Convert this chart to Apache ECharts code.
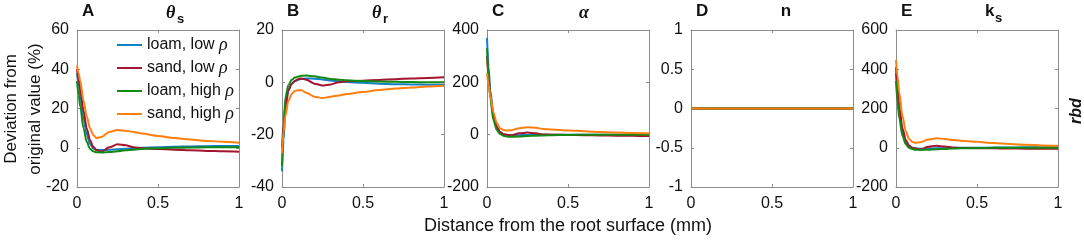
<!DOCTYPE html>
<html>
<head>
<meta charset="utf-8">
<script src="https://cdn.jsdelivr.net/npm/echarts@6/dist/echarts.min.js"></script>
<style>
  html, body { margin: 0; padding: 0; background: #fff; }
  #chart { width: 1084px; height: 240px; }
</style>
</head>
<body>
<div id="chart"></div>
<script>
// distance from root surface (mm), shared by every panel
var xs = [0, 0.01, 0.02, 0.04, 0.06, 0.08, 0.1, 0.12, 0.15, 0.2, 0.25, 0.3, 0.35, 0.4, 0.5, 0.6, 0.7, 0.8, 0.9, 1];

var seriesNames = ['loam, low ρ', 'sand, low ρ', 'loam, high ρ', 'sand, high ρ'];
var seriesColors = ['#0f7fc6', '#a2142f', '#138a13', '#ff7f0e'];

// A: theta_s
var thetaSLoamLow  = [38, 32, 26, 15, 7, 2, -0.3, -1, -1.2, -1, -0.8, -0.5, -0.2, 0, 0.3, 0.5, 0.7, 0.8, 0.9, 0.9];
var thetaSSandLow  = [40, 35, 30, 19, 10, 4, 0.5, -1.2, -2, 0.2, 1.8, 1.3, 0.2, -0.3, -0.6, -1, -1.3, -1.6, -1.8, -2];
var thetaSLoamHigh = [34, 27, 21, 10, 3, -0.5, -1.8, -2.3, -2.4, -2.2, -1.8, -1.3, -1, -0.6, -0.2, 0, 0.1, 0.2, 0.2, 0.2];
var thetaSSandHigh = [42, 38, 34, 24, 16, 10, 6.5, 5, 5.5, 8, 9, 8.7, 8, 7.2, 6, 5, 4.2, 3.5, 3, 2.6];

// B: theta_r
var thetaRLoamLow  = [-34, -22, -11, -3, -0.5, 0.5, 1, 1.3, 1.5, 1.4, 1.1, 0.7, 0.4, 0.1, -0.2, -0.5, -0.7, -0.8, -0.9, -0.9];
var thetaRSandLow  = [-25, -16, -9, -3, -0.5, 0.5, 1.2, 1.5, 1, -0.5, -1.2, -0.8, 0, 0.4, 0.6, 0.9, 1.2, 1.5, 1.7, 1.9];
var thetaRLoamHigh = [-32, -18, -6, -1, 1, 1.8, 2.2, 2.5, 2.6, 2.3, 1.8, 1.3, 1, 0.8, 0.5, 0.3, 0.2, 0.1, 0, 0];
var thetaRSandHigh = [-27, -19, -13, -7, -4.5, -3.3, -3, -3, -4, -5.5, -6, -5.5, -5, -4.5, -3.7, -2.9, -2.4, -2, -1.6, -1.3];

// C: alpha
var alphaLoamLow  = [370, 260, 170, 75, 30, 10, 2, 0, -2, -2, -1, -1, 0, 0, 0, 0, 0, 0, 0, 0];
var alphaSandLow  = [300, 220, 150, 70, 30, 10, 2, 0, -2, 5, 8, 5, 1, 0, -1, -2, -3, -4, -4.5, -5];
var alphaLoamHigh = [330, 220, 140, 55, 18, 3, -4, -7, -8, -7, -5, -4, -3, -2, -1, -0.5, 0, 0, 0, 0];
var alphaSandHigh = [235, 190, 150, 85, 45, 25, 18, 16, 17, 25, 28, 26, 22, 20, 16, 13, 10, 8, 6, 5];

// D: n (no deviation)
var nLoamLow  = [0, 0, 0, 0, 0, 0, 0, 0, 0, 0, 0, 0, 0, 0, 0, 0, 0, 0, 0, 0];
var nSandLow  = [0, 0, 0, 0, 0, 0, 0, 0, 0, 0, 0, 0, 0, 0, 0, 0, 0, 0, 0, 0];
var nLoamHigh = [0, 0, 0, 0, 0, 0, 0, 0, 0, 0, 0, 0, 0, 0, 0, 0, 0, 0, 0, 0];
var nSandHigh = [0, 0, 0, 0, 0, 0, 0, 0, 0, 0, 0, 0, 0, 0, 0, 0, 0, 0, 0, 0];

// E: k_s
var ksLoamLow  = [380, 270, 180, 80, 30, 8, 0, -3, -5, -4, -3, -2, -1, 0, 0, 1, 1, 2, 2, 2];
var ksSandLow  = [410, 300, 210, 100, 40, 12, 0, -5, -8, 5, 10, 6, 1, -1, -2, -3, -4, -4.5, -5, -5];
var ksLoamHigh = [340, 230, 150, 60, 18, 0, -7, -10, -11, -10, -8, -6, -4, -3, -1.5, -0.5, 0, 0, 0.5, 0.5];
var ksSandHigh = [447, 360, 280, 160, 85, 45, 30, 25, 28, 42, 48, 45, 40, 36, 30, 24, 19, 15, 12, 10];

var panelData = [
    [thetaSLoamLow, thetaSSandLow, thetaSLoamHigh, thetaSSandHigh],
    [thetaRLoamLow, thetaRSandLow, thetaRLoamHigh, thetaRSandHigh],
    [alphaLoamLow, alphaSandLow, alphaLoamHigh, alphaSandHigh],
    [nLoamLow, nSandLow, nLoamHigh, nSandHigh],
    [ksLoamLow, ksSandLow, ksLoamHigh, ksSandHigh]
];

// y axis ranges per panel: [min, max, interval]
var yRanges = [[-20, 60, 20], [-40, 20, 20], [-200, 400, 200], [-1, 1, 0.5], [-200, 600, 200]];
var xTicks = [0, 0.5, 1];

var panelLetters = ['A', 'B', 'C', 'D', 'E'];

var font = 'Liberation Sans, Arial, sans-serif';
var greekFont = 'Liberation Serif, Times New Roman, serif';
var boxColor = '#8c8c8c';
var textColor = '#111';

var gridLefts = [77, 282, 487, 691, 896];
var gridW = 162, gridTop = 30, gridH = 157;

var grids = [], xAxes = [], yAxes = [], series = [], graphics = [];

function boxLine() {
    return { show: true, onZero: false, lineStyle: { color: boxColor, width: 1 } };
}
function boxTick() {
    return { show: true, inside: true, length: 3, lineStyle: { color: boxColor } };
}

gridLefts.forEach(function (left, i) {
    grids.push({ left: left, top: gridTop, width: gridW, height: gridH });

    // bottom axis with labels, top axis only for the box and ticks
    xAxes.push({
        type: 'value', gridIndex: i, min: 0, max: 1, interval: 0.5, position: 'bottom',
        axisLine: boxLine(), axisTick: boxTick(),
        axisLabel: { color: textColor, fontSize: 16, fontFamily: font, margin: 9,
            formatter: function (v) { return xTicks.indexOf(v) >= 0 ? String(v) : ''; } },
        splitLine: { show: false }
    });
    xAxes.push({
        type: 'value', gridIndex: i, min: 0, max: 1, interval: 0.5, position: 'top',
        axisLine: boxLine(), axisTick: boxTick(),
        axisLabel: { show: false }, splitLine: { show: false }
    });

    var r = yRanges[i];
    yAxes.push({
        type: 'value', gridIndex: i, min: r[0], max: r[1], interval: r[2], position: 'left',
        axisLine: boxLine(), axisTick: boxTick(),
        axisLabel: { color: textColor, fontSize: 16, fontFamily: font, margin: 8 },
        splitLine: { show: false }
    });
    yAxes.push({
        type: 'value', gridIndex: i, min: r[0], max: r[1], interval: r[2], position: 'right',
        axisLine: boxLine(), axisTick: boxTick(),
        axisLabel: { show: false }, splitLine: { show: false }
    });

    panelData[i].forEach(function (vals, k) {
        series.push({
            name: seriesNames[k],
            type: 'line',
            xAxisIndex: i * 2,
            yAxisIndex: i * 2,
            data: xs.map(function (x, j) { return [x, vals[j]]; }),
            symbol: 'none',
            smooth: 0.3,
            smoothMonotone: 'x',
            color: seriesColors[k],
            lineStyle: { width: 2, color: seriesColors[k] },
            z: 2 + k
        });
    });

    // panel letter
    graphics.push({
        type: 'text', left: left + 5, top: 3,
        style: { text: panelLetters[i], font: 'bold 17px ' + font, fill: textColor }
    });
});

// panel titles
var titleCenters = [175, 380, 584, 786, 993];
graphics.push({ type: 'text', x: titleCenters[0] - 9, y: 4,
    style: { text: 'θ', font: 'italic bold 18px ' + greekFont, fill: textColor } });
graphics.push({ type: 'text', x: titleCenters[0] + 2, y: 13,
    style: { text: 's', font: 'bold 13px ' + font, fill: textColor } });
graphics.push({ type: 'text', x: titleCenters[1] - 8, y: 4,
    style: { text: 'θ', font: 'italic bold 18px ' + greekFont, fill: textColor } });
graphics.push({ type: 'text', x: titleCenters[1] + 3, y: 13,
    style: { text: 'r', font: 'bold 13px ' + font, fill: textColor } });
graphics.push({ type: 'text', x: titleCenters[2], y: 4,
    style: { text: 'α', font: 'italic bold 18px ' + greekFont, fill: textColor, align: 'center' } });
graphics.push({ type: 'text', x: titleCenters[3], y: 3,
    style: { text: 'n', font: 'bold 17px ' + font, fill: textColor, align: 'center' } });
graphics.push({ type: 'text', x: titleCenters[4] - 8, y: 3,
    style: { text: 'k', font: 'bold 17px ' + font, fill: textColor } });
graphics.push({ type: 'text', x: titleCenters[4] + 2, y: 12,
    style: { text: 's', font: 'bold 13px ' + font, fill: textColor } });

// shared axis titles
graphics.push({ type: 'text', x: 568, y: 226,
    style: { text: 'Distance from the root surface (mm)', font: '18px ' + font, fill: textColor,
        align: 'center', verticalAlign: 'middle' } });
graphics.push({ type: 'text', x: 23, y: 109, rotation: Math.PI / 2,
    style: { text: 'Deviation from\noriginal value (%)', font: '17px ' + font, fill: textColor,
        align: 'center', verticalAlign: 'middle', lineHeight: 24 } });
graphics.push({ type: 'text', x: 1077, y: 111, rotation: Math.PI / 2,
    style: { text: 'rbd', font: 'italic bold 16px ' + font, fill: textColor,
        align: 'center', verticalAlign: 'middle' } });

var myChart = echarts.init(document.getElementById('chart'));

var option = {
    animation: false,
    backgroundColor: '#fff',
    grid: grids,
    xAxis: xAxes,
    yAxis: yAxes,
    legend: {
        data: seriesNames.map(function (n) { return { name: n, icon: 'rect' }; }),
        orient: 'vertical',
        left: 112,
        top: 31,
        itemWidth: 25,
        itemHeight: 2,
        itemGap: 5,
        itemTextGap: 2,
        textStyle: {
            fontSize: 16, fontFamily: font, color: textColor,
            rich: {
                n: { fontSize: 16, fontFamily: font, color: textColor, lineHeight: 17 },
                r: { fontSize: 18, fontFamily: greekFont, fontStyle: 'italic', color: textColor, lineHeight: 17 }
            }
        },
        formatter: function (name) { return '{n|' + name.replace('ρ', '}{r|ρ}'); }
    },
    series: series,
    graphic: graphics
};

myChart.setOption(option);
</script>
</body>
</html>
